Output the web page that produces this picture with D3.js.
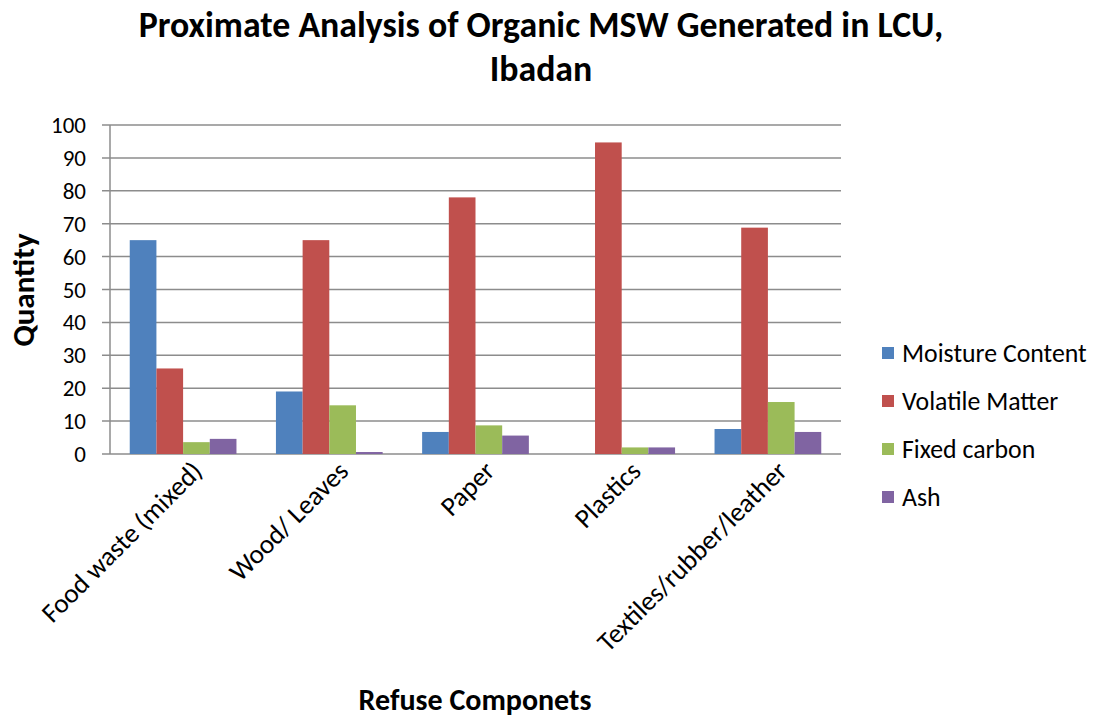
<!DOCTYPE html>
<meta charset="utf-8">
<style>
body { margin: 0; background: #fff; }
svg text { font-family: Carlito, "Open Sans", "Liberation Sans", sans-serif; fill: #000; }
.grid line { stroke: #8c8c8c; stroke-width: 1.5px; }
</style>
<svg width="1094" height="720"></svg>
<script src="https://d3js.org/d3.v7.min.js"></script>
<script>

var categories = ["Food waste (mixed)", "Wood/ Leaves", "Paper", "Plastics", "Textiles/rubber/leather"];
var seriesNames = ["Moisture Content", "Volatile Matter", "Fixed carbon", "Ash"];
var moisture = [65, 19, 6.7, 0, 7.6];
var volatile = [26, 65, 78, 94.7, 68.8];
var fixedCarbon = [3.6, 14.8, 8.7, 2, 15.8];
var ash = [4.6, 0.6, 5.6, 2, 6.7];
var yTicks = [0, 10, 20, 30, 40, 50, 60, 70, 80, 90, 100];
var colors = ["#4f81bd", "#c0504d", "#9bbb59", "#8064a2"];

var series = [moisture, volatile, fixedCarbon, ash];

var svg = d3.select("svg"),
    plotLeft = 110, plotRight = 841, plotTop = 125, plotBottom = 454;

var x0 = d3.scaleBand().domain(categories).range([plotLeft, plotRight]).padding(0);
var groupW = x0.bandwidth() * 0.73;
var x1 = d3.scaleBand().domain(seriesNames).range([0, groupW]).padding(0);
var y = d3.scaleLinear().domain([0, 100]).range([plotBottom, plotTop]);

// gridlines + tick marks
svg.append("g").attr("class", "grid")
  .selectAll("line").data(yTicks).enter().append("line")
    .attr("x1", plotLeft - 8).attr("x2", plotRight)
    .attr("y1", function(d) { return y(d); })
    .attr("y2", function(d) { return y(d); });

svg.append("line")
  .attr("x1", plotLeft).attr("x2", plotLeft).attr("y1", plotTop).attr("y2", plotBottom)
  .style("stroke", "#8c8c8c").style("stroke-width", "1.5px");

svg.append("g").selectAll("text").data(yTicks).enter().append("text")
  .attr("x", 86)
  .attr("y", function(d) { return y(d); })
  .attr("dy", "0.35em")
  .attr("text-anchor", "end")
  .style("font-size", "23px")
  .text(function(d) { return d; });

// bars
var groups = svg.append("g").selectAll("g").data(categories).enter().append("g")
  .attr("transform", function(c) { return "translate(" + (x0(c) + (x0.bandwidth() - groupW) / 2) + ",0)"; });

groups.selectAll("rect")
  .data(function(c, i) { return series.map(function(s, j) { return { name: seriesNames[j], v: s[i], k: j }; }); })
  .enter().append("rect")
    .attr("x", function(d) { return x1(d.name); })
    .attr("width", x1.bandwidth())
    .attr("y", function(d) { return y(d.v); })
    .attr("height", function(d) { return plotBottom - y(d.v); })
    .attr("fill", function(d) { return colors[d.k]; });

// x labels
svg.append("g").selectAll("text").data(categories).enter().append("text")
  .attr("transform", function(c) { return "translate(" + (x0(c) + x0.bandwidth() / 2 + 14) + "," + (plotBottom + 12) + ") rotate(-45)"; })
  .attr("text-anchor", "end")
  .attr("dy", "0.35em")
  .style("font-size", "27px")
  .text(function(c) { return c; });

// title
svg.append("text").attr("x", 541).attr("y", 37).attr("text-anchor", "middle")
  .style("font-size", "35.8px").style("font-weight", "bold")
  .text("Proximate Analysis of Organic MSW Generated in LCU,");
svg.append("text").attr("x", 541).attr("y", 81).attr("text-anchor", "middle")
  .style("font-size", "35.8px").style("font-weight", "bold")
  .text("Ibadan");

// axis titles
svg.append("text")
  .attr("transform", "translate(34,290) rotate(-90)")
  .attr("text-anchor", "middle")
  .style("font-size", "31px").style("font-weight", "bold")
  .text("Quantity");
svg.append("text").attr("x", 475).attr("y", 710).attr("text-anchor", "middle")
  .style("font-size", "30px").style("font-weight", "bold")
  .text("Refuse Componets");

// legend
var legend = svg.append("g").selectAll("g").data(seriesNames).enter().append("g")
  .attr("transform", function(d, i) { return "translate(882," + (353 + i * 48) + ")"; });
legend.append("rect").attr("x", 0).attr("y", -6).attr("width", 12).attr("height", 12)
  .attr("fill", function(d, i) { return colors[i]; });
legend.append("text").attr("x", 20).attr("dy", "0.35em")
  .style("font-size", "25.8px")
  .text(function(d) { return d; });

</script>
